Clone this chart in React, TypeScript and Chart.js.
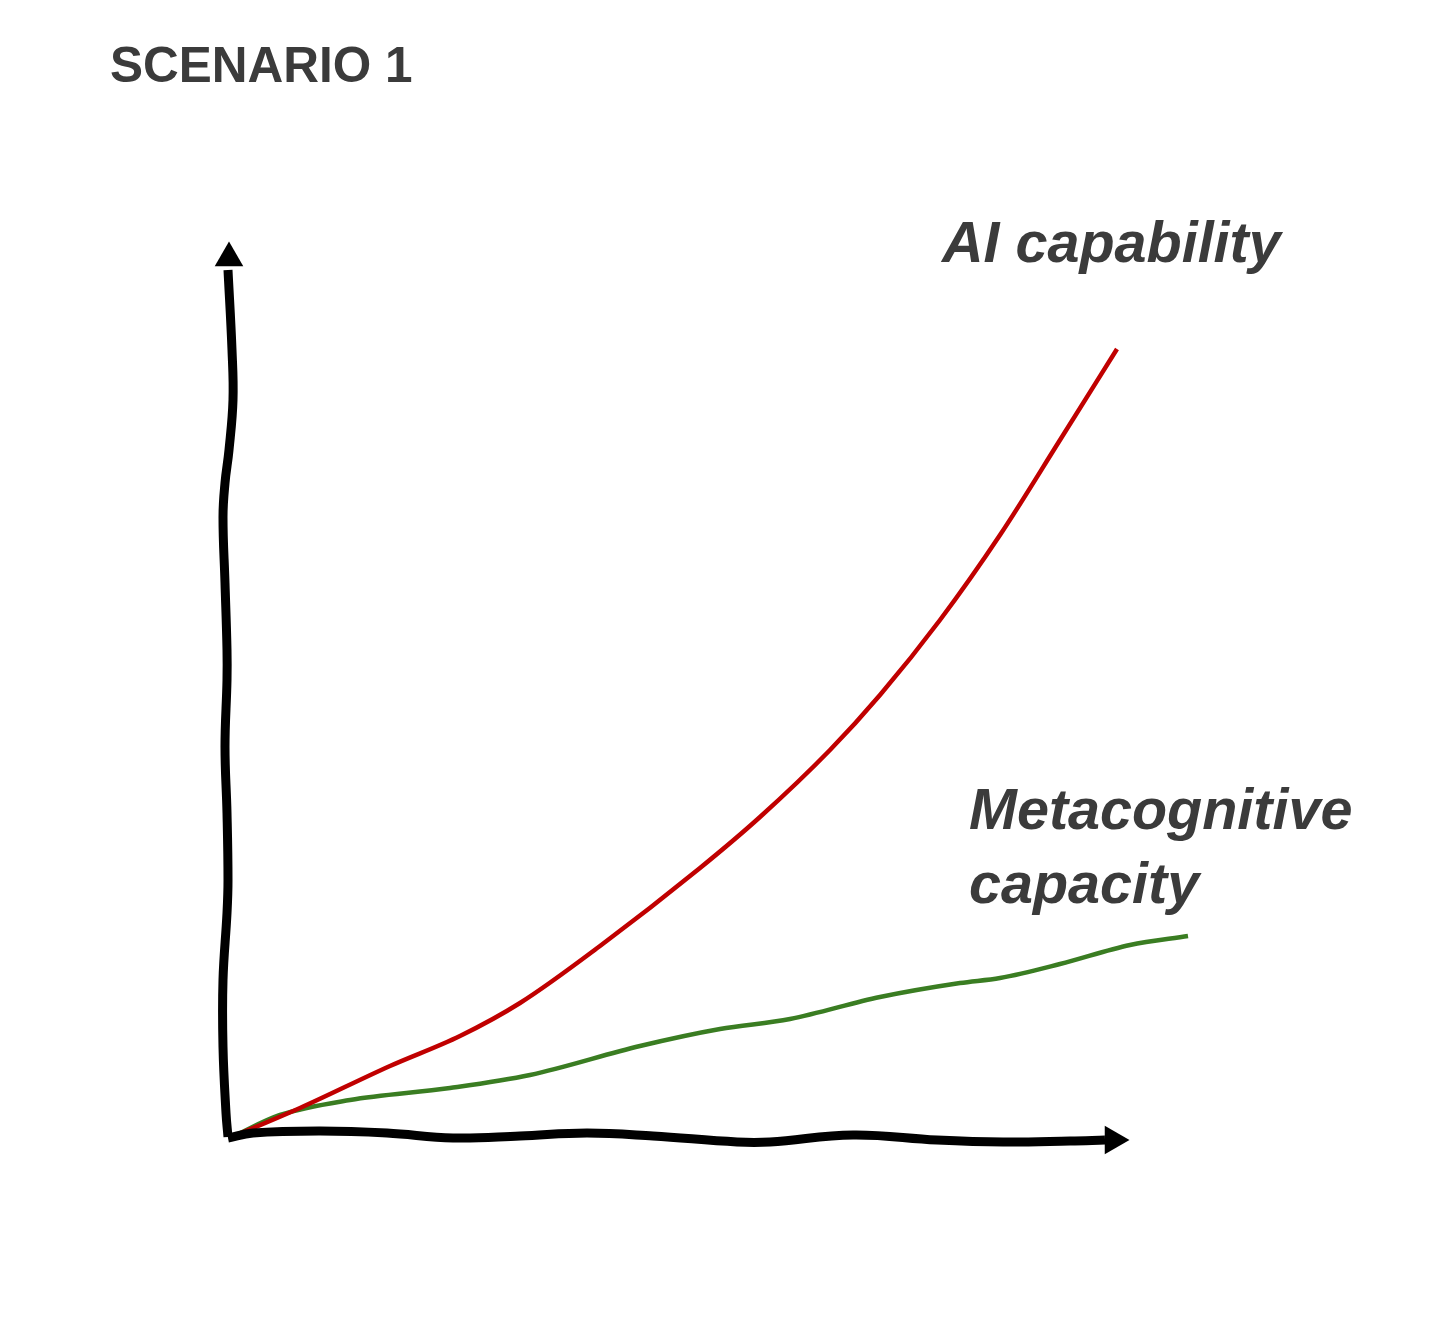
import React, { useEffect, useRef } from "react";
import { Chart, registerables } from "chart.js";

Chart.register(...registerables);

// AI capability (red)
const redX = [0.2, 7, 16, 23, 29, 37, 47, 53, 60, 65, 71, 77, 83, 88.7];
const redY = [0, 2.9, 7.1, 10.1, 13.4, 19.1, 26.9, 32, 38.7, 44.2, 51.7, 60.2, 69.7, 78.8];

// Metacognitive capacity (green)
const greenX = [0.2, 5, 12, 22, 30, 41, 49, 56, 65, 73, 77, 83, 90, 95.8];
const greenY = [0, 2.2, 3.7, 4.9, 6.2, 9.1, 10.8, 11.8, 14, 15.4, 15.9, 17.3, 19.2, 20.1];

// hand-drawn vertical axis
const yAxisX = [-0.2, -0.4, -0.7, -0.7, -0.3, -0.2, -0.3, -0.5, -0.3, -0.3, -0.5, -0.7, -0.5, -0.1, 0.3, 0.2, -0.2];
const yAxisY = [0, 2.4, 9, 15.7, 22.4, 25.7, 32.4, 39, 45.7, 48.7, 55.4, 62, 65.4, 68.7, 73.7, 78.7, 86.7];

// hand-drawn horizontal axis
const xAxisX = [-0.2, 2.3, 9, 15.7, 22.3, 29, 35.7, 42.3, 50.7, 54, 62.3, 70.7, 77.3, 84, 87.5];
const xAxisY = [-0.1, 0.4, 0.6, 0.4, -0.1, 0.1, 0.4, 0.1, -0.5, -0.5, 0.2, -0.3, -0.5, -0.4, -0.3];

// arrow heads
const arrowUp = { x: -0.1, y: 87.9 };
const arrowRight = { x: 88.3, y: -0.3 };

const titleText = "SCENARIO 1";
const redLabel = "AI capability";
const greenLabel = ["Metacognitive", "capacity"];

const pts = (xs: number[], ys: number[]) => xs.map((x, i) => ({ x, y: ys[i] }));

export default function App() {
  const ref = useRef<HTMLCanvasElement | null>(null);

  useEffect(() => {
    if (!ref.current) return;
    const textPlugin = {
      id: "labels",
      afterDraw(chart: any) {
        const ctx = chart.ctx;
        ctx.save();
        ctx.fillStyle = "#3b3b3b";
        ctx.textBaseline = "alphabetic";
        ctx.textAlign = "left";
        ctx.font = "bold 49.5px 'Liberation Sans', Arial, sans-serif";
        ctx.fillText(titleText, 110, 82);
        ctx.font = "italic bold 57.5px 'Liberation Sans', Arial, sans-serif";
        ctx.fillText(redLabel, 942, 262);
        ctx.fillText(greenLabel[0], 969, 829);
        ctx.fillText(greenLabel[1], 969, 903);
        ctx.restore();
      },
    };

    const chart = new Chart(ref.current, {
      type: "line",
      data: {
        datasets: [
          {
            label: "y-axis",
            data: pts(yAxisX, yAxisY),
            borderColor: "#000",
            borderWidth: 9,
            pointRadius: 0,
            tension: 0.4,
            borderCapStyle: "butt",
            clip: false,
          } as any,
          {
            label: "x-axis",
            data: pts(xAxisX, xAxisY),
            borderColor: "#000",
            borderWidth: 9,
            pointRadius: 0,
            tension: 0.4,
            borderCapStyle: "butt",
            clip: false,
          } as any,
          {
            label: "arrows",
            data: [arrowUp, arrowRight],
            showLine: false,
            pointStyle: "triangle",
            pointRadius: 16.5,
            pointRotation: [0, 90],
            backgroundColor: "#000",
            borderColor: "#000",
            borderWidth: 0,
            clip: false,
          } as any,
          {
            label: "AI capability",
            data: pts(redX, redY),
            borderColor: "#c00000",
            borderWidth: 4.5,
            pointRadius: 0,
            cubicInterpolationMode: "monotone",
            clip: false,
          } as any,
          {
            label: "Metacognitive capacity",
            data: pts(greenX, greenY),
            borderColor: "#3a7d22",
            borderWidth: 4.5,
            pointRadius: 0,
            cubicInterpolationMode: "monotone",
            clip: false,
          } as any,
        ],
      },
      options: {
        animation: false,
        responsive: false,
        layout: { padding: { left: 230, right: 226, top: 137, bottom: 180 } },
        plugins: { legend: { display: false }, tooltip: { enabled: false }, title: { display: false } },
        scales: {
          x: { type: "linear", min: 0, max: 100, display: false },
          y: { type: "linear", min: 0, max: 100, display: false },
        },
      },
      plugins: [textPlugin],
    });
    return () => chart.destroy();
  }, []);

  return (
    <div style={{ position: "absolute", left: 0, top: 0, width: 1456, height: 1317, background: "#fff" }}>
      <canvas ref={ref} width={1456} height={1317} style={{ width: 1456, height: 1317, display: "block" }} />
    </div>
  );
}
